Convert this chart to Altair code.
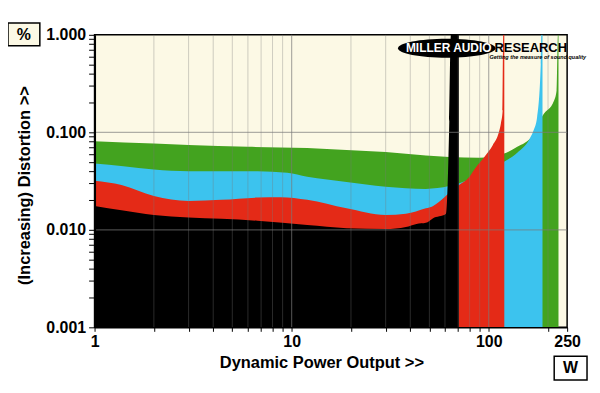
import altair as alt
import pandas as pd

# ---- data (W, % THD+N) ----
green_w = [1, 2, 3, 6, 12, 19, 30, 48, 63, 89.5, 117.7, 139.6, 166.8, 187.9, 214.7, 221,
           224.6, 226]
green_v = [0.081, 0.0766, 0.074, 0.071, 0.069, 0.066, 0.063, 0.058, 0.056, 0.055, 0.060,
           0.071, 0.093, 0.149, 0.212, 0.268, 1.0, 1.0]

blue_w = [1, 1.4, 2, 3, 6.7, 9.5, 12, 19, 30, 48, 63, 71, 86, 101, 119.6, 139.6, 162.4,
          169, 176, 183.7, 185, 187.5]
blue_v = [0.048, 0.045, 0.0416, 0.040, 0.040, 0.0385, 0.035, 0.031, 0.0277, 0.0263, 0.0281,
          0.030, 0.035, 0.042, 0.050, 0.0617, 0.088, 0.105, 0.143, 0.5, 1.0, 1.0]

red_w = [1, 1.37, 2, 3, 4.4, 6.7, 8.8, 12, 19, 30, 38, 48, 52, 60, 63, 71, 78.4, 86, 95,
         104.8, 112.6, 115.3, 117.7, 118.5, 120]
red_v = [0.0318, 0.0288, 0.0222, 0.0198, 0.0203, 0.0214, 0.0216, 0.0203, 0.0166, 0.0142,
         0.0146, 0.0166, 0.0175, 0.0218, 0.0238, 0.029, 0.0336, 0.0437, 0.056, 0.0738,
         0.10, 0.123, 0.167, 1.0, 1.0]

black_w = [1, 1.37, 2, 3, 4.4, 6.7, 12, 19, 30, 38, 43, 48, 52, 60.6, 63.1, 64.3, 70.6]
black_v = [0.0176, 0.0159, 0.0142, 0.0134, 0.013, 0.0124, 0.0112, 0.0104, 0.0102, 0.0107,
           0.0115, 0.0118, 0.0131, 0.0145, 0.13, 1.0, 1.0]

series_names = ["green", "blue", "red", "black"]
series_colors = ["#43A31F", "#3CC3EE", "#E42A17", "#000000"]

x_ticks = [1, 2, 3, 4, 5, 6, 7, 8, 9, 10, 20, 30, 40, 50, 60, 70, 80, 90, 100, 200, 250]
x_labels = [1, 10, 100, 250]
x_grid = [2, 3, 4, 5, 6, 7, 8, 9, 20, 30, 40, 50, 60, 70, 80, 90, 200]
x_grid_major = [10, 100]
y_ticks = [0.001, 0.002, 0.003, 0.004, 0.005, 0.006, 0.007, 0.008, 0.009,
           0.01, 0.02, 0.03, 0.04, 0.05, 0.06, 0.07, 0.08, 0.09,
           0.1, 0.2, 0.3, 0.4, 0.5, 0.6, 0.7, 0.8, 0.9, 1.0]
y_grid = [0.01, 0.1]

W_PLOT, H_PLOT = 475, 294
CREAM = "#FCF9E5"
FONT = "Liberation Sans"

xs = alt.Scale(type="log", domain=[1, 250], nice=False)
ys = alt.Scale(type="log", domain=[0.001, 1], nice=False)

x_axis = alt.Axis(
    values=x_ticks, grid=False, tickSize=4, tickColor="#000", domainColor="#000",
    domainWidth=1.5, labelExpr="indexof(%s, datum.value) >= 0 ? '' + datum.value : ''" % str(x_labels),
    labelFont=FONT, labelFontSize=16, labelFontWeight="bold", labelColor="#000",
    labelPadding=2, labelFlush=False, labelOverlap=False,
    title="Dynamic Power Output >>", titleFont=FONT, titleFontSize=16.5, titleFontWeight="bold",
    titleColor="#000", titleX=228, titleY=35, titleBaseline="middle", titleAlign="center",
    zindex=1)
y_axis = alt.Axis(
    values=y_ticks, grid=False, tickSize=6, tickColor="#000", domainColor="#000",
    domainWidth=2,
    labelExpr="(datum.value == 1 || datum.value == 0.1 || datum.value == 0.01 || datum.value == 0.001) ? format(datum.value, '.3f') : ''",
    labelFont=FONT, labelFontSize=16, labelFontWeight="bold", labelColor="#000",
    labelPadding=3, labelFlush=False, labelOverlap=False,
    title="(Increasing) Distortion >>", titleFont=FONT, titleFontSize=16.5, titleFontWeight="bold",
    titleColor="#000", titleX=-70, titleY=151, titleBaseline="middle", titleAlign="center",
    titleAngle=270, zindex=1)

X = alt.X("W:Q", scale=xs, axis=x_axis)
Y = alt.Y("pct:Q", scale=ys, axis=y_axis)

frames = []
for name, w, v in [("green", green_w, green_v), ("blue", blue_w, blue_v),
                   ("red", red_w, red_v), ("black", black_w, black_v)]:
    frames.append(pd.DataFrame({"W": w, "pct": v, "series": name}))
data = pd.concat(frames, ignore_index=True)

layers = []
for name, col in zip(series_names, series_colors):
    layers.append(
        alt.Chart(data).transform_filter(alt.datum.series == name)
        .mark_area(color=col, interpolate="monotone", clip=True, opacity=1)
        .encode(x=X, y=Y, y2=alt.datum(0.001))
    )

grid_v = alt.Chart(pd.DataFrame({"W": x_grid})).mark_rule(color="#7a7a7a", opacity=0.35, strokeWidth=1).encode(x=X)
grid_vm = alt.Chart(pd.DataFrame({"W": x_grid_major})).mark_rule(color="#7a7a7a", opacity=0.6, strokeWidth=1.2).encode(x=X)
grid_h = alt.Chart(pd.DataFrame({"pct": y_grid})).mark_rule(color="#7a7a7a", opacity=0.6, strokeWidth=1.2).encode(y=Y)

one = pd.DataFrame({"k": [0]})
ellipse_path = "M-1,0A1,0.194,0,1,0,1,0A1,0.194,0,1,0,-1,0Z"
logo_ellipse = alt.Chart(one).mark_point(shape=ellipse_path, size=98 * 98, filled=True,
                                         color="#000", opacity=1).encode(
    x=alt.value(354), y=alt.value(13.5))
logo_text1 = alt.Chart(one).mark_text(text="MILLER AUDIO", font=FONT, fontSize=12, fontWeight="bold",
                                      color="#fff", align="center", baseline="middle").encode(
    x=alt.value(356), y=alt.value(13.5))
logo_text2 = alt.Chart(one).mark_text(text="RESEARCH", font=FONT, fontSize=13, fontWeight="bold",
                                      color="#000", align="left", baseline="middle").encode(
    x=alt.value(402), y=alt.value(13.5))
logo_text3 = alt.Chart(one).mark_text(text="Getting the measure of sound quality", font=FONT,
                                      fontSize=5.5, fontWeight="bold", fontStyle="italic",
                                      color="#000", align="left", baseline="middle").encode(
    x=alt.value(397), y=alt.value(22.5))

pct_box = alt.Chart(one).mark_rect(fill=CREAM, stroke="#000", strokeWidth=1.5).encode(
    x=alt.value(-87), x2=alt.value(-55), y=alt.value(-12), y2=alt.value(11))
pct_text = alt.Chart(one).mark_text(text="%", font=FONT, fontSize=16, fontWeight="bold",
                                    color="#000", align="center", baseline="middle").encode(
    x=alt.value(-71), y=alt.value(0))
w_box = alt.Chart(one).mark_rect(fill="#fff", stroke="#000", strokeWidth=1.5).encode(
    x=alt.value(462), x2=alt.value(495), y=alt.value(29 + H_PLOT), y2=alt.value(53 + H_PLOT))
w_text = alt.Chart(one).mark_text(text="W", font=FONT, fontSize=16, fontWeight="bold",
                                  color="#000", align="center", baseline="middle").encode(
    x=alt.value(478.5), y=alt.value(41 + H_PLOT))

chart = alt.layer(
    *layers, grid_v, grid_vm, grid_h,
    logo_ellipse, logo_text1, logo_text2, logo_text3,
    pct_box, pct_text, w_box, w_text
).properties(
    width=W_PLOT, height=H_PLOT,
    autosize=alt.AutoSizeParams(type="none"),
    padding={"left": 87, "top": 26, "right": 25, "bottom": 56},
    background="#ffffff",
).configure_view(
    fill=CREAM, stroke="#000", strokeWidth=1.5
)

chart.save("out.html", embed_options={"renderer": "svg", "actions": False})
